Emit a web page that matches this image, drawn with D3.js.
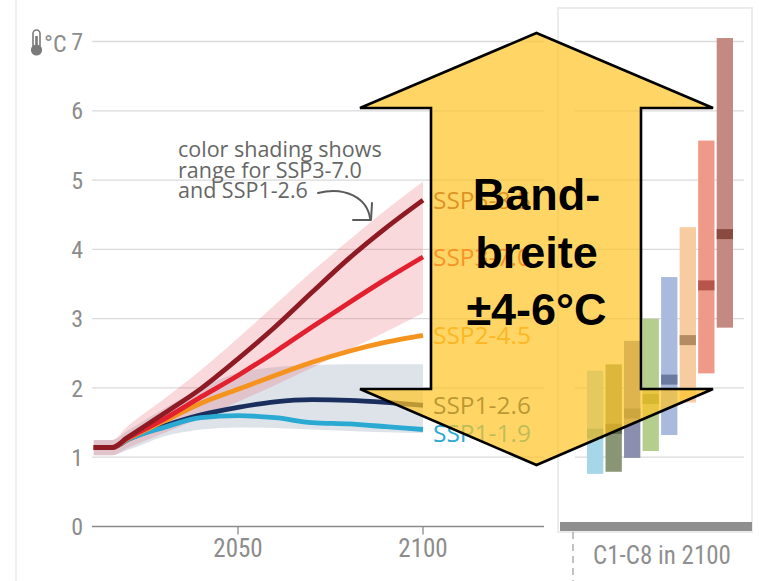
<!DOCTYPE html>
<html>
<head>
<meta charset="utf-8">
<script src="https://cdn.jsdelivr.net/npm/d3@7"></script>
<style>
  html, body { margin: 0; padding: 0; background: #fff; }
  svg { display: block; }
</style>
</head>
<body>
<svg id="chart" width="759" height="581"></svg>
<script>
// Global surface temperature change relative to 1850-1900 (°C)
const years   = [2011, 2016, 2020, 2030, 2040, 2050, 2060, 2070, 2080, 2090, 2100];
const ssp119  = [1.14, 1.14, 1.25, 1.43, 1.57, 1.60, 1.57, 1.50, 1.48, 1.44, 1.40];
const ssp126  = [1.14, 1.14, 1.25, 1.45, 1.61, 1.72, 1.80, 1.83, 1.82, 1.79, 1.75];
const ssp245  = [1.14, 1.14, 1.26, 1.52, 1.78, 1.98, 2.18, 2.37, 2.53, 2.66, 2.76];
const ssp370  = [1.14, 1.14, 1.27, 1.55, 1.87, 2.18, 2.52, 2.88, 3.23, 3.57, 3.89];
const ssp585  = [1.14, 1.14, 1.28, 1.63, 1.99, 2.42, 2.88, 3.38, 3.87, 4.31, 4.71];

// Very likely ranges shown as shading
const ssp370Low  = [1.03, 1.03, 1.13, 1.35, 1.57, 1.80, 2.04, 2.29, 2.55, 2.81, 3.08];
const ssp370High = [1.25, 1.25, 1.44, 1.84, 2.26, 2.72, 3.20, 3.68, 4.13, 4.57, 4.98];
const ssp126Low  = [1.03, 1.03, 1.10, 1.30, 1.40, 1.43, 1.42, 1.40, 1.38, 1.36, 1.35];
const ssp126High = [1.25, 1.25, 1.38, 1.70, 2.00, 2.22, 2.30, 2.33, 2.34, 2.34, 2.34];

const scenarioNames  = ["SSP5-8.5", "SSP3-7.0", "SSP2-4.5", "SSP1-2.6", "SSP1-1.9"];
const scenarioColors = ["#8e1b24", "#e3202f", "#f5931f", "#1b2f5e", "#2aa9d3"];

// Assessed warming in 2100 for scenario categories C1-C8
const categories = ["C1", "C2", "C3", "C4", "C5", "C6", "C7", "C8"];
const catLow     = [0.76, 0.79, 0.99, 1.09, 1.32, 1.79, 2.21, 2.87];
const catHigh    = [2.25, 2.34, 2.68, 3.00, 3.60, 4.32, 5.57, 7.05];
const catMedian  = [1.34, 1.41, 1.63, 1.84, 2.12, 2.69, 3.48, 4.22];
const catFill    = ["#a5d7e8", "#8a9673", "#8c8eaf", "#b5ce8e", "#aabade", "#f7cca0", "#ef9a88", "#c48a82"];
const catDark    = ["#5ea6c2", "#5c6648", "#5d5f80", "#7d9a50", "#6a7aa0", "#b48c64", "#b8554a", "#8b4a40"];

const yTicks = [0, 1, 2, 3, 4, 5, 6, 7];
const xTicks = [2050, 2100];

const annotationLines = ["color shading shows", "range for SSP3-7.0", "and SSP1-2.6"];
const panelTitle = "C1-C8 in 2100";
const arrowLines = ["Band-", "breite", "±4-6°C"];

const svg = d3.select("#chart");
const narrow = "'Liberation Sans Narrow', 'Arial Narrow', 'Roboto Condensed', 'Open Sans', sans-serif";
const gray = "#8c8c8c";

const x = d3.scaleLinear().domain([2050, 2100]).range([238, 423]);
const y = d3.scaleLinear().domain([0, 7]).range([526.5, 41.5]);
const plotLeft = 92, plotRight = 544;

// frame lines
svg.append("line").attr("x1", 16).attr("x2", 16).attr("y1", 0).attr("y2", 581)
  .attr("stroke", "#ececec").attr("stroke-width", 1.5);

// right panel box
svg.append("rect").attr("x", 558).attr("y", 8).attr("width", 194).attr("height", 524)
  .attr("fill", "none").attr("stroke", "#ececec").attr("stroke-width", 2);

// gridlines
const gridG = svg.append("g");
gridG.selectAll("line.main").data(yTicks.filter(d => d > 0)).join("line")
  .attr("x1", plotLeft).attr("x2", plotRight)
  .attr("y1", d => y(d)).attr("y2", d => y(d))
  .attr("stroke", "#dadada").attr("stroke-width", 1.3);
gridG.selectAll("line.panel").data(yTicks.filter(d => d > 0)).join("line")
  .attr("x1", 575).attr("x2", 744)
  .attr("y1", d => y(d)).attr("y2", d => y(d))
  .attr("stroke", "#dadada").attr("stroke-width", 1.3);

// y axis labels
svg.append("g").selectAll("text").data(yTicks).join("text")
  .attr("x", 83).attr("y", d => y(d)).attr("dy", "0.36em")
  .attr("text-anchor", "end")
  .attr("font-family", narrow).attr("font-size", 24).attr("fill", gray)
  .text(d => d);

// thermometer + unit
const thermo = svg.append("g").attr("stroke", "#7a7a7a").attr("fill", "none");
thermo.append("rect").attr("x", 33).attr("y", 30).attr("width", 7).attr("height", 19).attr("rx", 3.5).attr("stroke-width", 1.6);
thermo.append("circle").attr("cx", 36.5).attr("cy", 50).attr("r", 5).attr("fill", "#7a7a7a").attr("stroke-width", 1.2);
thermo.append("line").attr("x1", 36.5).attr("x2", 36.5).attr("y1", 36).attr("y2", 49).attr("stroke-width", 2.6);
svg.append("text").attr("x", 44).attr("y", 51.5)
  .attr("font-family", narrow).attr("font-size", 24).attr("fill", gray).text("°C");

// shaded ranges
const area = (lo, hi) => d3.area()
  .x((d, i) => x(years[i]))
  .y0((d, i) => y(lo[i]))
  .y1((d, i) => y(hi[i]))
  .curve(d3.curveMonotoneX)(years);
svg.append("path").attr("d", area(ssp126Low, ssp126High)).attr("fill", "#dee3ea");
svg.append("path").attr("d", area(ssp370Low, ssp370High)).attr("fill", "#e8505f").attr("fill-opacity", 0.22);

// x axis
svg.append("line").attr("x1", plotLeft).attr("x2", plotRight).attr("y1", y(0)).attr("y2", y(0))
  .attr("stroke", "#8a8a8a").attr("stroke-width", 1.5);
svg.append("g").selectAll("line").data(xTicks).join("line")
  .attr("x1", d => x(d)).attr("x2", d => x(d)).attr("y1", y(0)).attr("y2", y(0) + 8)
  .attr("stroke", "#8a8a8a").attr("stroke-width", 1.3);
svg.append("g").selectAll("text").data(xTicks).join("text")
  .attr("x", d => x(d)).attr("y", 557).attr("text-anchor", "middle")
  .attr("font-family", narrow).attr("font-size", 25).attr("fill", gray)
  .text(d => d);

// scenario lines (drawn low to high)
const series = [ssp585, ssp370, ssp245, ssp126, ssp119];
const line = d3.line().x((d, i) => x(years[i])).y(d => y(d)).curve(d3.curveMonotoneX);
const order = [3, 4, 2, 1, 0];
order.forEach(k => {
  svg.append("path").attr("d", line(series[k]))
    .attr("fill", "none").attr("stroke", scenarioColors[k])
    .attr("stroke-width", 4.8).attr("stroke-linejoin", "round");
});

// end labels, nudged apart when they would collide
const labelY = series.map(s => y(s[s.length - 1]));
for (let i = 1; i < labelY.length; i++) {
  if (labelY[i] - labelY[i - 1] < 28) labelY[i] = labelY[i - 1] + 28;
}
svg.append("g").selectAll("text").data(scenarioNames).join("text")
  .attr("x", x(2100) + 10).attr("y", (d, i) => labelY[i]).attr("dy", "0.36em")
  .attr("font-family", "'Open Sans', sans-serif").attr("font-size", 24.5)
  .attr("fill", (d, i) => scenarioColors[i])
  .text(d => d);

// annotation
const ann = svg.append("g").attr("fill", "#666")
  .attr("font-family", "'Open Sans', sans-serif").attr("font-size", 21.5);
annotationLines.forEach((t, i) => {
  ann.append("text").attr("x", 178).attr("y", 157 + i * 20.5).text(t);
});
svg.append("path").attr("d", "M318,193 C345,186 367,198 370,218")
  .attr("fill", "none").attr("stroke", "#5a5a5a").attr("stroke-width", 2).attr("stroke-linecap", "round");
svg.append("path").attr("d", "M353,220 L371,220 L372,203")
  .attr("fill", "none").attr("stroke", "#5a5a5a").attr("stroke-width", 2)
  .attr("stroke-linecap", "round").attr("stroke-linejoin", "round");

// right panel: category ranges with medians
const band = d3.scaleBand().domain(categories).range([587, 733]).paddingInner(0.12);
const bars = svg.append("g");
bars.selectAll("rect.range").data(categories).join("rect")
  .attr("x", d => band(d)).attr("width", band.bandwidth())
  .attr("y", (d, i) => y(catHigh[i])).attr("height", (d, i) => y(catLow[i]) - y(catHigh[i]))
  .attr("fill", (d, i) => catFill[i]);
bars.selectAll("rect.median").data(categories).join("rect")
  .attr("x", d => band(d)).attr("width", band.bandwidth())
  .attr("y", (d, i) => y(catMedian[i]) - 5).attr("height", 10)
  .attr("fill", (d, i) => catDark[i]);

// panel base bar and label
svg.append("rect").attr("x", 560).attr("y", y(0) - 4.5).attr("width", 192).attr("height", 9)
  .attr("fill", "#8f8f8f");
svg.append("line").attr("x1", 573).attr("x2", 573).attr("y1", 532).attr("y2", 581)
  .attr("stroke", "#9a9a9a").attr("stroke-width", 1.2).attr("stroke-dasharray", "7,5");
svg.append("text").attr("x", 662).attr("y", 564).attr("text-anchor", "middle")
  .attr("font-family", narrow).attr("font-size", 25).attr("fill", "#8f8f8f")
  .text(panelTitle);

// double-headed range arrow spanning the spread of outcomes
const ax = 536.5, shaftL = 431, shaftR = 641, wingL = 360, wingR = 713;
const tipTop = 33, tipBot = 465, shaftTop = 108, shaftBot = 389;
const arrowPts = [
  [ax, tipTop], [wingR, shaftTop], [shaftR, shaftTop], [shaftR, shaftBot], [wingR, shaftBot],
  [ax, tipBot], [wingL, shaftBot], [shaftL, shaftBot], [shaftL, shaftTop], [wingL, shaftTop]
];
svg.append("path").attr("d", d3.line()(arrowPts) + "Z")
  .attr("fill", "#ffc423").attr("fill-opacity", 0.7)
  .attr("stroke", "#000").attr("stroke-width", 2.6).attr("stroke-linejoin", "miter");

svg.append("g").selectAll("text").data(arrowLines).join("text")
  .attr("x", ax).attr("y", (d, i) => 210 + i * 57.5).attr("text-anchor", "middle")
  .attr("font-family", "'Liberation Sans', Arial, sans-serif").attr("font-weight", "bold")
  .attr("font-size", 45).attr("fill", "#000")
  .text(d => d);
</script>
</body>
</html>
